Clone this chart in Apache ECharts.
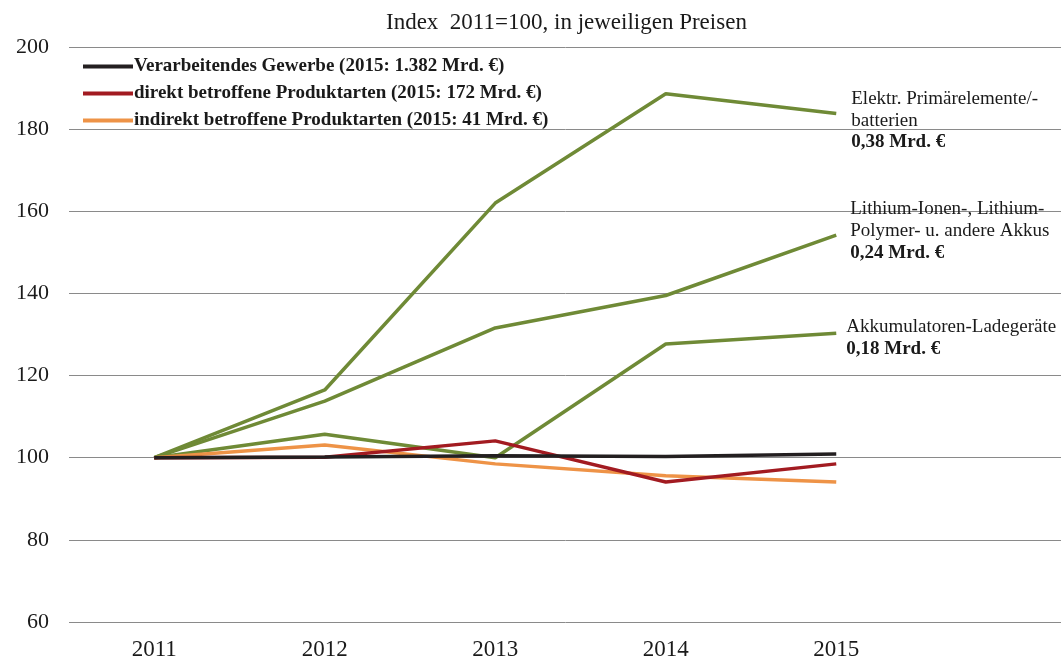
<!DOCTYPE html>
<html>
<head>
<meta charset="utf-8">
<script src="https://cdn.jsdelivr.net/npm/echarts@6/dist/echarts.min.js"></script>
<style>
  html, body { margin: 0; padding: 0; background: #fff; }
  #main { width: 1061px; height: 661px; }
</style>
</head>
<body>
<div id="main"></div>
<script>
// Daten
var years = ['2011', '2012', '2013', '2014', '2015'];
var yTicks = [60, 80, 100, 120, 140, 160, 180, 200];

var verarbeitend = [100, 100.2, 100.5, 100.3, 100.9];
var direkt = [100, 100.1, 104.1, 94.1, 98.5];
var indirekt = [100, 103.1, 98.5, 95.6, 94.1];
var primaer = [100, 116.5, 162, 188.6, 183.8];
var lithium = [100, 113.8, 131.6, 139.5, 154.2];
var ladegeraete = [100, 105.7, 100, 127.7, 130.3];

var nameVerarb = 'Verarbeitendes Gewerbe (2015: 1.382 Mrd. €)';
var nameDirekt = 'direkt betroffene Produktarten (2015: 172 Mrd. €)';
var nameIndirekt = 'indirekt betroffene Produktarten (2015: 41 Mrd. €)';

var font = '"Liberation Serif", "Times New Roman", serif';

(function () {
  var myChart = echarts.init(document.getElementById('main'));

  // Beschriftung am Linienende
  function endLabel(text, offset) {
    return {
      show: true,
      distance: 15,
      offset: offset,
      formatter: text,
      fontFamily: font,
      color: '#1a1a1a',
      rich: {
        n: { fontFamily: font, fontSize: 19, lineHeight: 22, color: '#1a1a1a' },
        b: { fontFamily: font, fontSize: 19, lineHeight: 22, fontWeight: 'bold', color: '#1a1a1a' }
      }
    };
  }

  function line(name, data, color, label) {
    var s = {
      name: name,
      type: 'line',
      data: data,
      symbol: 'none',
      lineStyle: { color: color, width: 3.5 },
      itemStyle: { color: color },
      animation: false
    };
    if (label) s.endLabel = label;
    return s;
  }

  var green = '#6f8a36';

  var option = {
    backgroundColor: '#fff',
    title: {
      text: 'Index  2011=100, in jeweiligen Preisen',
      left: 381,
      top: 6,
      textStyle: { fontFamily: font, fontWeight: 'normal', fontSize: 23, color: '#1a1a1a' }
    },
    legend: {
      orient: 'vertical',
      left: 78,
      top: 52,
      itemGap: 8,
      itemWidth: 50,
      itemHeight: 4,
      icon: 'rect',
      data: [nameVerarb, nameDirekt, nameIndirekt],
      textStyle: { fontFamily: font, fontWeight: 'bold', fontSize: 19, color: '#1a1a1a', padding: [0, 0, 0, -4] }
    },
    grid: {
      left: 69,
      right: -31,
      top: 47,
      bottom: 39,
      outerBoundsMode: 'none'
    },
    xAxis: {
      type: 'category',
      data: years.concat(['']),
      boundaryGap: true,
      axisLine: { show: false },
      axisTick: { show: false },
      axisLabel: { fontFamily: font, fontSize: 23, color: '#1a1a1a', margin: 16 }
    },
    yAxis: {
      type: 'value',
      min: yTicks[0],
      max: yTicks[yTicks.length - 1],
      interval: 20,
      axisLine: { show: false },
      axisTick: { show: false },
      axisLabel: { fontFamily: font, fontSize: 22, color: '#1a1a1a', margin: 20 },
      splitLine: { lineStyle: { color: '#8a8a8a', width: 1 } }
    },
    series: [
      line('Elektr. Primärelemente/-batterien', primaer, green,
        endLabel('{n|Elektr. Primärelemente/-}\n{n|batterien}\n{b|0,38 Mrd. €}', [0, 7])),
      line('Lithium-Ionen-, Lithium-Polymer- u. andere Akkus', lithium, green,
        endLabel('{n|Lithium-Ionen-, Lithium-}\n{n|Polymer- u. andere Akkus}\n{b|0,24 Mrd. €}', [-1, -4])),
      line('Akkumulatoren-Ladegeräte', ladegeraete, green,
        endLabel('{n|Akkumulatoren-Ladegeräte}\n{b|0,18 Mrd. €}', [-5, 5])),
      line(nameIndirekt, indirekt, '#ee9347'),
      line(nameDirekt, direkt, '#a21b21'),
      line(nameVerarb, verarbeitend, '#231f20')
    ]
  };

  myChart.setOption(option);
  window.addEventListener('resize', function () {
    myChart.resize();
  });
})();
</script>
</body>
</html>
